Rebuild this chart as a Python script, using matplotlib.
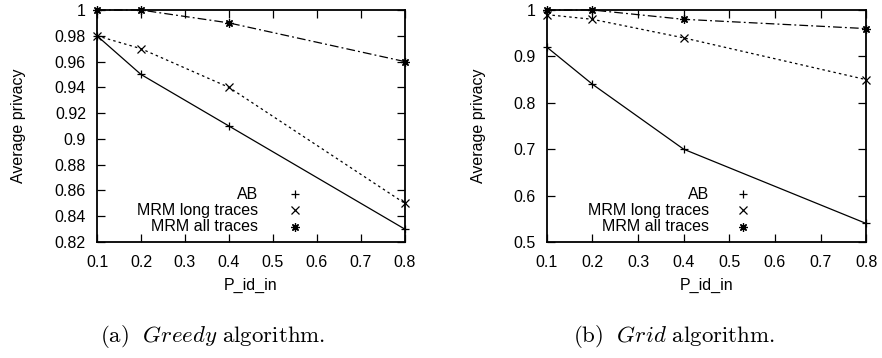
import matplotlib
matplotlib.use("Agg")
import matplotlib.pyplot as plt
import numpy as np
from matplotlib.ticker import FuncFormatter, MultipleLocator

p_id_in = [0.1, 0.2, 0.4, 0.8]
labels = ["AB", "MRM long traces", "MRM all traces"]

greedy_ab = [0.98, 0.95, 0.91, 0.83]
greedy_long = [0.98, 0.97, 0.94, 0.85]
greedy_all = [1.0, 1.0, 0.99, 0.96]

grid_ab = [0.92, 0.84, 0.70, 0.54]
grid_long = [0.99, 0.98, 0.94, 0.85]
grid_all = [1.0, 1.0, 0.98, 0.96]

captions = [("(a)", "Greedy"), ("(b)", "Grid")]

plt.rcParams['font.family'] = ['Liberation Sans', 'DejaVu Sans']
plt.rcParams['mathtext.fontset'] = 'cm'

fig = plt.figure(figsize=(8.82, 3.58), dpi=100)

ast = (8, 2, 0)
markers = ['+', 'x', ast]
styles = ['-', (0, (2, 2.5)), (0, (7, 2.5, 1.5, 2.5))]
FS = 11.5
MS = 6

def setup(ax, ylim, ystep, data, legend_x, ylab_x):
    for vals, m, ls, lab in zip(data, markers, styles, labels):
        ax.plot(p_id_in, vals, color='black', lw=0.9, linestyle=ls,
                marker=m, markersize=MS, markeredgewidth=0.9, clip_on=False)
    ax.set_xlim(0.1, 0.8)
    ax.set_ylim(*ylim)
    ax.xaxis.set_major_locator(MultipleLocator(0.1))
    ax.yaxis.set_major_locator(MultipleLocator(ystep))
    fmt = FuncFormatter(lambda v, p: "%g" % round(v, 4))
    ax.xaxis.set_major_formatter(fmt)
    ax.yaxis.set_major_formatter(fmt)
    ax.tick_params(direction='in', length=6, width=0.9, top=True, right=True,
                   labelsize=FS)
    ax.tick_params(axis='x', pad=9)
    ax.tick_params(axis='y', pad=8)
    for s in ax.spines.values():
        s.set_linewidth(1.3)
    ax.set_xlabel("P_id_in", fontsize=FS)
    ax.xaxis.set_label_coords(0.5, -0.155)
    ax.set_ylabel("Average privacy", fontsize=FS)
    ax.yaxis.set_label_coords(ylab_x, 0.5)
    ys = [0.206, 0.136, 0.065]
    tx, mx = legend_x
    for lab, m, y in zip(labels, markers, ys):
        ax.text(tx, y, lab, transform=ax.transAxes, ha='right', va='center',
                fontsize=FS)
        ax.plot([mx], [y], transform=ax.transAxes, color='black',
                marker=m, markersize=MS, markeredgewidth=0.9, linestyle='none')

ax1 = fig.add_axes([0.110, 0.324, 0.349, 0.648])
setup(ax1, (0.82, 1.0), 0.02, [greedy_ab, greedy_long, greedy_all],
      (0.523, 0.643), -0.23)
ax2 = fig.add_axes([0.620, 0.324, 0.362, 0.648])
setup(ax2, (0.5, 1.0), 0.1, [grid_ab, grid_long, grid_all],
      (0.508, 0.614), -0.19)

for (tag, name), lx in zip(captions, [100 / 882, 573 / 882]):
    fig.text(lx, 1 - 337 / 358, r"$\mathrm{%s}\ \ \mathit{%s}\ \mathrm{algorithm.}$" % (tag, name),
             ha='left', va='center', fontsize=16.5)

fig.savefig("out.png", dpi=100)
